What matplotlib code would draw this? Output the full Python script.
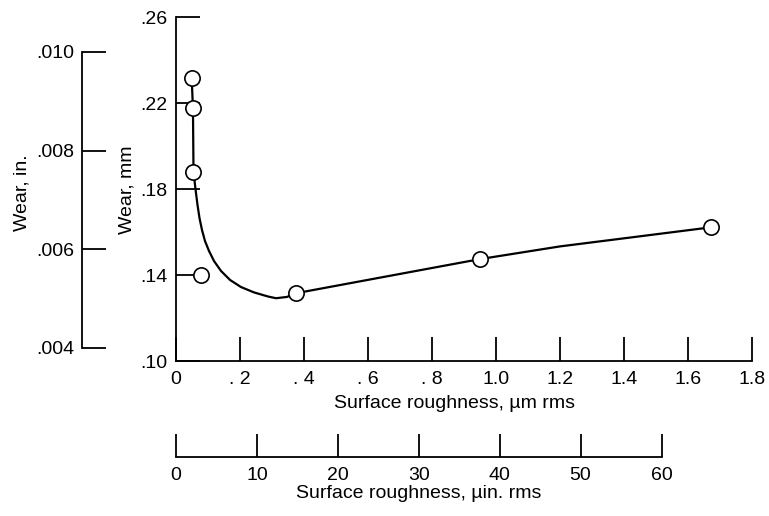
import matplotlib
matplotlib.use("Agg")
import matplotlib.pyplot as plt

plt.rcParams['font.family'] = ['Liberation Sans', 'DejaVu Sans']

# ---- data ----
pts_x = [0.049, 0.053, 0.054, 0.077, 0.374, 0.950, 1.673]          # surface roughness, um rms
pts_y = [0.2316, 0.2175, 0.1880, 0.1399, 0.1315, 0.1474, 0.1622]   # wear, mm

curve_x = [0.049, 0.053, 0.0547, 0.0609, 0.0672, 0.0734, 0.0813, 0.0906, 0.1031,
           0.1188, 0.1406, 0.1688, 0.2031, 0.2438, 0.2875, 0.3125, 0.3469, 0.374,
           0.950, 1.200, 1.450, 1.673]
curve_y = [0.2316, 0.2175, 0.1880, 0.1800, 0.1726, 0.1665, 0.1609, 0.1558, 0.1512,
           0.1465, 0.1419, 0.1377, 0.1344, 0.1319, 0.1300, 0.1292, 0.1298, 0.1315,
           0.1474, 0.1533, 0.1580, 0.1622]

mm_xticks = [0, 0.2, 0.4, 0.6, 0.8, 1.0, 1.2, 1.4, 1.6, 1.8]
mm_xlabels = ['0', '. 2', '. 4', '. 6', '. 8', '1.0', '1.2', '1.4', '1.6', '1.8']
mm_yticks = [0.10, 0.14, 0.18, 0.22, 0.26]
mm_ylabels = ['.10', '.14', '.18', '.22', '.26']
in_yticks = [0.004, 0.006, 0.008, 0.010]
in_ylabels = ['.004', '.006', '.008', '.010']
uin_xticks = [0, 10, 20, 30, 40, 50, 60]
uin_xlabels = ['0', '10', '20', '30', '40', '50', '60']

W, H = 769, 516
fig = plt.figure(figsize=(W / 100, H / 100), dpi=100)

FS = 14
LW = 1.3
TL = 17  # tick length in points (~24 px)

def fx(px):
    return px / W

def fy(py):
    return 1 - py / H

# ---- main axes (mm, um) ----
x0, x1, ytop, ybot = 176, 752, 17, 361
ax = fig.add_axes([fx(x0), fy(ybot), fx(x1) - fx(x0), fy(ytop) - fy(ybot)])
ax.patch.set_visible(False)
ax.plot(curve_x, curve_y, color='black', lw=1.6, zorder=2, solid_joinstyle='round')
ax.plot(pts_x, pts_y, 'o', ms=11, mfc='white', mec='black', mew=1.2, zorder=3, clip_on=False)
ax.set_xlim(0, 1.8)
ax.set_ylim(0.10, 0.26)
for s in ['top', 'right']:
    ax.spines[s].set_visible(False)
for s in ['left', 'bottom']:
    ax.spines[s].set_linewidth(LW)
ax.set_xticks(mm_xticks)
ax.set_xticklabels(mm_xlabels)
ax.set_yticks(mm_yticks)
ax.set_yticklabels(mm_ylabels)
ax.tick_params(axis='both', direction='in', length=TL, width=LW, labelsize=FS)
ax.tick_params(axis='x', pad=7)
ax.tick_params(axis='y', pad=6)
fig.text(fx(454), fy(404), 'Surface roughness, \u00b5m rms', ha='center', va='center', fontsize=FS)
fig.text(fx(127), fy(190), 'Wear, mm', ha='center', va='center', rotation=90, fontsize=FS)

# ---- left axis (inches) ----
ax_in = fig.add_axes([fx(81.5), fy(348), 0.02, fy(52) - fy(348)])
ax_in.patch.set_visible(False)
ax_in.set_ylim(0.004, 0.010)
ax_in.set_xlim(0, 1)
for s in ['top', 'right', 'bottom']:
    ax_in.spines[s].set_visible(False)
ax_in.spines['left'].set_linewidth(LW)
ax_in.set_xticks([])
ax_in.set_yticks(in_yticks)
ax_in.set_yticklabels(in_ylabels)
ax_in.tick_params(axis='y', direction='in', length=TL, width=LW, labelsize=FS, pad=5)
fig.text(fx(22), fy(193), 'Wear, in.', ha='center', va='center', rotation=90, fontsize=FS)

# ---- bottom axis (microinches) ----
ax_u = fig.add_axes([fx(176), fy(457), fx(661.5) - fx(176), 0.02])
ax_u.patch.set_visible(False)
ax_u.set_xlim(0, 60)
ax_u.set_ylim(0, 1)
for s in ['top', 'right', 'left']:
    ax_u.spines[s].set_visible(False)
ax_u.spines['bottom'].set_linewidth(LW)
ax_u.set_yticks([])
ax_u.set_xticks(uin_xticks)
ax_u.set_xticklabels(uin_xlabels)
ax_u.tick_params(axis='x', direction='in', length=16.5, width=LW, labelsize=FS, pad=7)
fig.text(fx(419), fy(494), 'Surface roughness, \u00b5in. rms', ha='center', va='center', fontsize=FS)

fig.savefig('out.png', dpi=100)
